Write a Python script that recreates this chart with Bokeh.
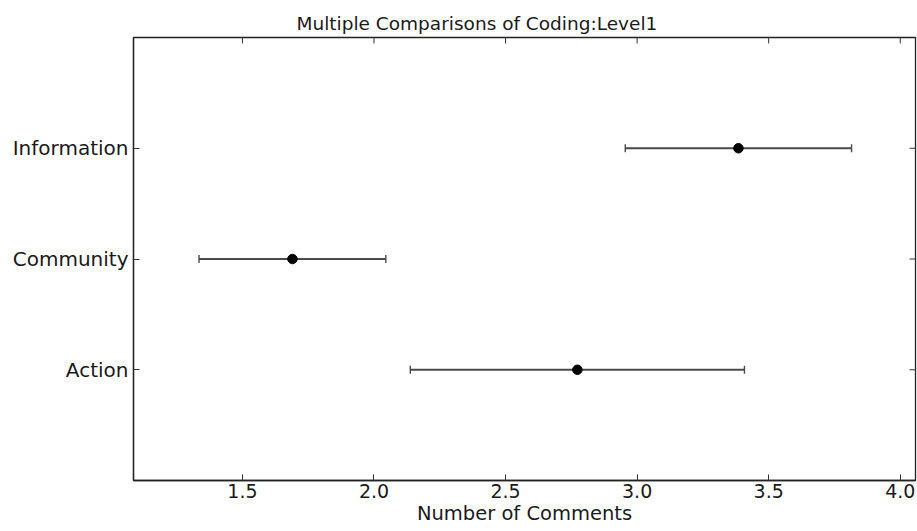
import math
from bokeh.plotting import figure
from bokeh.models import Range1d, FixedTicker, Whisker, ColumnDataSource, TeeHead, NumeralTickFormatter
from bokeh.embed import file_html
from bokeh.resources import INLINE

categories = ["Action", "Community", "Information"]
means = [2.773, 1.690, 3.385]
half_widths = [0.635, 0.355, 0.430]
x_ticks = [1.5, 2.0, 2.5, 3.0, 3.5, 4.0]
x_lim = (1.086, 4.058)
y_lim = (-1, 3)

ypos = list(range(len(categories)))
lower = [m - h for m, h in zip(means, half_widths)]
upper = [m + h for m, h in zip(means, half_widths)]
src = ColumnDataSource(dict(y=ypos, m=means, lo=lower, hi=upper))

FONT = "DejaVu Sans"
TXT = "#1a1a1a"

p = figure(width=917, height=531, output_backend="svg", toolbar_location=None,
           x_range=Range1d(*x_lim), y_range=Range1d(*y_lim),
           title="Multiple Comparisons of Coding:Level1",
           min_border_left=133, min_border_right=2, min_border_top=37, min_border_bottom=51)
p.title.text_font = FONT
p.title.text_font_size = "18.5px"
p.title.text_font_style = "normal"
p.title.align = "left"
p.title.offset = 163
p.title.text_color = TXT
p.title.standoff = 8

p.grid.visible = False
p.outline_line_color = "#222222"
p.outline_line_width = 1.3
p.background_fill_color = "white"
p.border_fill_color = "white"

for ax in p.xaxis:
    ax.ticker = FixedTicker(ticks=x_ticks)
    ax.formatter = NumeralTickFormatter(format="0.0")
    ax.axis_label = "Number of Comments"
    ax.major_label_text_font_size = "19px"
    ax.axis_label_text_font_size = "19.5px"
    ax.major_label_standoff = 3
    ax.axis_label_standoff = 1
for ax in p.yaxis:
    ax.ticker = FixedTicker(ticks=ypos)
    ax.major_label_overrides = {i: c for i, c in enumerate(categories)}
    ax.major_label_text_font_size = "20px"
    ax.major_label_standoff = 5

for ax in list(p.xaxis) + list(p.yaxis):
    ax.major_tick_in = 6
    ax.major_tick_out = 0
    ax.minor_tick_in = 0
    ax.minor_tick_out = 0
    ax.major_tick_line_color = "#333333"
    ax.axis_line_color = "#222222"
    ax.axis_line_width = 1.3
    ax.major_label_text_font = FONT
    ax.major_label_text_color = TXT
    ax.axis_label_text_font = FONT
    ax.axis_label_text_font_style = "normal"
    ax.axis_label_text_color = TXT

# mirrored tick marks on the top and right frame edges (half of each dash is clipped by the frame)
p.scatter(x=x_ticks, y=[y_lim[1]] * len(x_ticks), marker="dash", angle=math.pi / 2,
          size=12, line_color="#333333", line_width=1)
p.scatter(x=[x_lim[1]] * len(ypos), y=ypos, marker="dash",
          size=12, line_color="#333333", line_width=1)

w = Whisker(source=src, base="y", lower="lo", upper="hi", dimension="width",
            line_color="#4a4a4a", line_width=1.8,
            lower_head=TeeHead(size=8, line_color="#4a4a4a", line_width=1.4),
            upper_head=TeeHead(size=8, line_color="#4a4a4a", line_width=1.4))
p.add_layout(w)
p.scatter(x="m", y="y", source=src, size=9.5, color="black")

open("out.html", "w").write(file_html(p, INLINE))
